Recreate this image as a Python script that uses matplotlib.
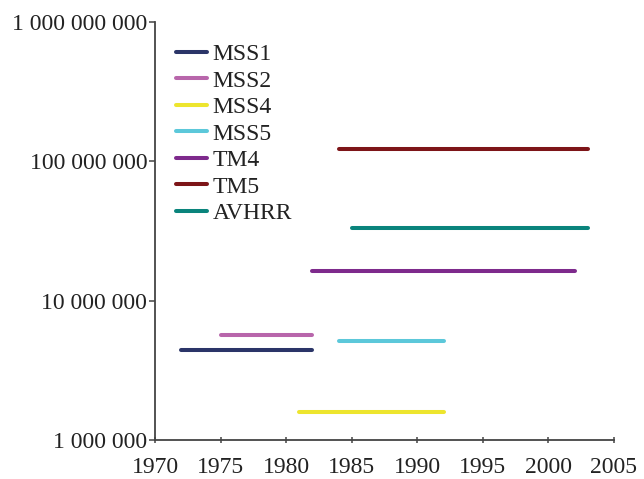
import matplotlib
matplotlib.use("Agg")
import matplotlib.pyplot as plt
from matplotlib.ticker import FixedLocator, NullLocator

sensors = ["MSS1", "MSS2", "MSS4", "MSS5", "TM4", "TM5", "AVHRR"]
start_year = [1972, 1975, 1981, 1984, 1982, 1984, 1985]
end_year = [1982, 1982, 1992, 1992, 2002, 2003, 2003]
values = [4.43e6, 5.68e6, 1.59e6, 5.14e6, 1.64e7, 1.22e8, 3.34e7]
colors = ["#2b3568", "#b866ab", "#ede52e", "#5cc8da", "#7e2a8c", "#7d1518", "#0a847c"]

x_ticks = [1970, 1975, 1980, 1985, 1990, 1995, 2000, 2005]
y_ticks = [1e6, 1e7, 1e8, 1e9]
y_labels = ["1 000 000", "10 000 000", "100 000 000", "1 000 000 000"]

plt.rcParams['font.family'] = ['Liberation Serif', 'DejaVu Serif']

fig = plt.figure(figsize=(6.44, 4.79), dpi=100)
ax = fig.add_axes([0.2407, 0.0814, 0.7127, 0.8727])

for name, s, e, v, c in zip(sensors, start_year, end_year, values, colors):
    ax.plot([s, e], [v, v], color=c, lw=2.9, solid_capstyle='round', label=name)

ax.set_yscale('log')
ax.set_xlim(1970, 2005)
ax.set_ylim(1e6, 1e9)
ax.yaxis.set_major_locator(FixedLocator(y_ticks))
ax.yaxis.set_minor_locator(NullLocator())
ax.set_yticklabels(y_labels)
ax.set_xticks(x_ticks)
ax.tick_params(labelsize=17, colors='#444444', labelcolor='#222222', width=1.1)
ax.tick_params(axis='y', length=4, direction='out', pad=1.5)
ax.tick_params(axis='x', length=5, direction='inout', pad=10)
for sp in ['top', 'right']:
    ax.spines[sp].set_visible(False)
for sp in ['left', 'bottom']:
    ax.spines[sp].set_color('#444444')
    ax.spines[sp].set_linewidth(1.3)

leg = ax.legend(loc='upper left', bbox_to_anchor=(0.046, 0.948), frameon=False, fontsize=17,
                handlelength=1.3, handletextpad=0.25, labelspacing=0.21, borderaxespad=0,
                borderpad=0)
for t in leg.get_texts():
    t.set_color('#222222')

fig.savefig("out.png", dpi=100)
